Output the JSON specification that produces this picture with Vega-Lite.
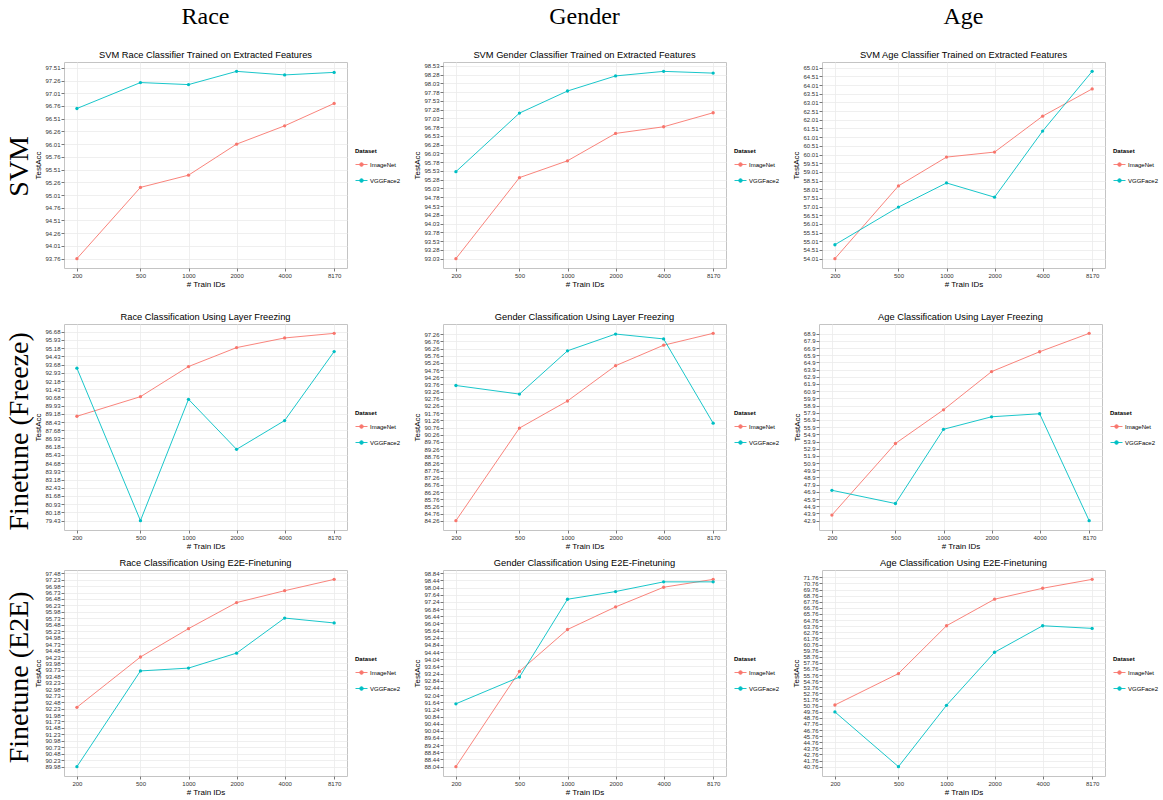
{
"$schema": "https://vega.github.io/schema/vega-lite/v6.json",
"padding": {"left": 6, "top": 4, "right": 0, "bottom": 0},
"datasets": {
"p1": [{"n":200,"acc":93.76,"Dataset":"ImageNet"},{"n":500,"acc":95.16,"Dataset":"ImageNet"},{"n":1000,"acc":95.40,"Dataset":"ImageNet"},{"n":2000,"acc":96.01,"Dataset":"ImageNet"},{"n":4000,"acc":96.37,"Dataset":"ImageNet"},{"n":8170,"acc":96.81,"Dataset":"ImageNet"},
{"n":200,"acc":96.71,"Dataset":"VGGFace2"},{"n":500,"acc":97.22,"Dataset":"VGGFace2"},{"n":1000,"acc":97.18,"Dataset":"VGGFace2"},{"n":2000,"acc":97.44,"Dataset":"VGGFace2"},{"n":4000,"acc":97.37,"Dataset":"VGGFace2"},{"n":8170,"acc":97.42,"Dataset":"VGGFace2"}],
"p2": [{"n":200,"acc":93.03,"Dataset":"ImageNet"},{"n":500,"acc":95.34,"Dataset":"ImageNet"},{"n":1000,"acc":95.82,"Dataset":"ImageNet"},{"n":2000,"acc":96.60,"Dataset":"ImageNet"},{"n":4000,"acc":96.79,"Dataset":"ImageNet"},{"n":8170,"acc":97.19,"Dataset":"ImageNet"},
{"n":200,"acc":95.51,"Dataset":"VGGFace2"},{"n":500,"acc":97.18,"Dataset":"VGGFace2"},{"n":1000,"acc":97.81,"Dataset":"VGGFace2"},{"n":2000,"acc":98.24,"Dataset":"VGGFace2"},{"n":4000,"acc":98.37,"Dataset":"VGGFace2"},{"n":8170,"acc":98.32,"Dataset":"VGGFace2"}],
"p3": [{"n":200,"acc":54.01,"Dataset":"ImageNet"},{"n":500,"acc":58.20,"Dataset":"ImageNet"},{"n":1000,"acc":59.86,"Dataset":"ImageNet"},{"n":2000,"acc":60.15,"Dataset":"ImageNet"},{"n":4000,"acc":62.22,"Dataset":"ImageNet"},{"n":8170,"acc":63.79,"Dataset":"ImageNet"},
{"n":200,"acc":54.81,"Dataset":"VGGFace2"},{"n":500,"acc":56.98,"Dataset":"VGGFace2"},{"n":1000,"acc":58.37,"Dataset":"VGGFace2"},{"n":2000,"acc":57.55,"Dataset":"VGGFace2"},{"n":4000,"acc":61.36,"Dataset":"VGGFace2"},{"n":8170,"acc":64.80,"Dataset":"VGGFace2"}],
"p4": [{"n":200,"acc":88.96,"Dataset":"ImageNet"},{"n":500,"acc":90.75,"Dataset":"ImageNet"},{"n":1000,"acc":93.50,"Dataset":"ImageNet"},{"n":2000,"acc":95.23,"Dataset":"ImageNet"},{"n":4000,"acc":96.11,"Dataset":"ImageNet"},{"n":8170,"acc":96.53,"Dataset":"ImageNet"},
{"n":200,"acc":93.35,"Dataset":"VGGFace2"},{"n":500,"acc":79.43,"Dataset":"VGGFace2"},{"n":1000,"acc":90.51,"Dataset":"VGGFace2"},{"n":2000,"acc":85.94,"Dataset":"VGGFace2"},{"n":4000,"acc":88.57,"Dataset":"VGGFace2"},{"n":8170,"acc":94.87,"Dataset":"VGGFace2"}],
"p5": [{"n":200,"acc":84.26,"Dataset":"ImageNet"},{"n":500,"acc":90.72,"Dataset":"ImageNet"},{"n":1000,"acc":92.61,"Dataset":"ImageNet"},{"n":2000,"acc":95.07,"Dataset":"ImageNet"},{"n":4000,"acc":96.50,"Dataset":"ImageNet"},{"n":8170,"acc":97.33,"Dataset":"ImageNet"},
{"n":200,"acc":93.69,"Dataset":"VGGFace2"},{"n":500,"acc":93.09,"Dataset":"VGGFace2"},{"n":1000,"acc":96.11,"Dataset":"VGGFace2"},{"n":2000,"acc":97.28,"Dataset":"VGGFace2"},{"n":4000,"acc":96.94,"Dataset":"VGGFace2"},{"n":8170,"acc":91.06,"Dataset":"VGGFace2"}],
"p6": [{"n":200,"acc":43.68,"Dataset":"ImageNet"},{"n":500,"acc":53.63,"Dataset":"ImageNet"},{"n":1000,"acc":58.31,"Dataset":"ImageNet"},{"n":2000,"acc":63.62,"Dataset":"ImageNet"},{"n":4000,"acc":66.38,"Dataset":"ImageNet"},{"n":8170,"acc":68.94,"Dataset":"ImageNet"},
{"n":200,"acc":47.12,"Dataset":"VGGFace2"},{"n":500,"acc":45.28,"Dataset":"VGGFace2"},{"n":1000,"acc":55.60,"Dataset":"VGGFace2"},{"n":2000,"acc":57.34,"Dataset":"VGGFace2"},{"n":4000,"acc":57.76,"Dataset":"VGGFace2"},{"n":8170,"acc":42.90,"Dataset":"VGGFace2"}],
"p7": [{"n":200,"acc":92.28,"Dataset":"ImageNet"},{"n":500,"acc":94.23,"Dataset":"ImageNet"},{"n":1000,"acc":95.33,"Dataset":"ImageNet"},{"n":2000,"acc":96.34,"Dataset":"ImageNet"},{"n":4000,"acc":96.80,"Dataset":"ImageNet"},{"n":8170,"acc":97.24,"Dataset":"ImageNet"},
{"n":200,"acc":89.98,"Dataset":"VGGFace2"},{"n":500,"acc":93.69,"Dataset":"VGGFace2"},{"n":1000,"acc":93.80,"Dataset":"VGGFace2"},{"n":2000,"acc":94.38,"Dataset":"VGGFace2"},{"n":4000,"acc":95.74,"Dataset":"VGGFace2"},{"n":8170,"acc":95.55,"Dataset":"VGGFace2"}],
"p8": [{"n":200,"acc":88.04,"Dataset":"ImageNet"},{"n":500,"acc":93.36,"Dataset":"ImageNet"},{"n":1000,"acc":95.70,"Dataset":"ImageNet"},{"n":2000,"acc":96.96,"Dataset":"ImageNet"},{"n":4000,"acc":98.06,"Dataset":"ImageNet"},{"n":8170,"acc":98.50,"Dataset":"ImageNet"},
{"n":200,"acc":91.55,"Dataset":"VGGFace2"},{"n":500,"acc":93.04,"Dataset":"VGGFace2"},{"n":1000,"acc":97.39,"Dataset":"VGGFace2"},{"n":2000,"acc":97.82,"Dataset":"VGGFace2"},{"n":4000,"acc":98.36,"Dataset":"VGGFace2"},{"n":8170,"acc":98.36,"Dataset":"VGGFace2"}],
"p9": [{"n":200,"acc":50.86,"Dataset":"ImageNet"},{"n":500,"acc":56.00,"Dataset":"ImageNet"},{"n":1000,"acc":63.83,"Dataset":"ImageNet"},{"n":2000,"acc":68.18,"Dataset":"ImageNet"},{"n":4000,"acc":69.97,"Dataset":"ImageNet"},{"n":8170,"acc":71.43,"Dataset":"ImageNet"},
{"n":200,"acc":49.72,"Dataset":"VGGFace2"},{"n":500,"acc":40.76,"Dataset":"VGGFace2"},{"n":1000,"acc":50.80,"Dataset":"VGGFace2"},{"n":2000,"acc":59.49,"Dataset":"VGGFace2"},{"n":4000,"acc":63.83,"Dataset":"VGGFace2"},{"n":8170,"acc":63.40,"Dataset":"VGGFace2"}]
},
"spacing": 23,
"resolve": {"scale": {"color": "independent"}},
"vconcat": [
{
"title": {"text": "SVM", "orient": "left", "font": "Liberation Serif", "fontSize": 28, "fontWeight": "normal", "anchor": "middle", "offset": 0, "dx": -20, "color": "#000"},
"spacing": 11,
"resolve": {"scale": {"color": "independent"}},
"hconcat": [
{
"width": 283, "height": 206,
"title": {"text": "Race", "font": "Liberation Serif", "fontSize": 24, "fontWeight": "normal", "subtitle": "SVM Race Classifier Trained on Extracted Features", "subtitleFont": "Liberation Sans", "subtitleFontSize": 9.3, "subtitleColor": "#000", "subtitlePadding": 22, "offset": 2},
"data": {"name": "p1"},
"encoding": {"color": {"field": "Dataset", "type": "nominal", "scale": {"domain": ["ImageNet","VGGFace2"], "range": ["#F8766D","#00BFC4"]}, "legend": {"orient": "none", "legendX": 291, "legendY": 86}}},
"layer": [
{"mark": {"type": "line", "strokeWidth": 0.9}, "encoding": {
"x": {"field": "n", "type": "quantitative", "scale": {"type": "log", "domain": [166, 9833], "nice": false}, "axis": {"values": [200,500,1000,2000,4000,8170], "format": "d", "title": "# Train IDs"}},
"y": {"field": "acc", "type": "quantitative", "scale": {"domain": [93.576, 97.624], "nice": false, "zero": false}, "axis": {"values": [93.76,94.01,94.26,94.51,94.76,95.01,95.26,95.51,95.76,96.01,96.26,96.51,96.76,97.01,97.26,97.51], "format": ".2f", "title": "TestAcc"}}}},
{"mark": {"type": "point", "filled": true, "size": 11, "opacity": 1}, "encoding": {
"x": {"field": "n", "type": "quantitative", "axis": {"orient": "top", "values": [316.2,707.1,1414.2,2828.4,5716.6], "labels": false, "ticks": false, "title": null, "minExtent": 0, "maxExtent": 0, "gridColor": "#f6f6f6"}},
"y": {"field": "acc", "type": "quantitative", "axis": {"orient": "right", "values": [93.885,94.135,94.385,94.635,94.885,95.135,95.385,95.635,95.885,96.135,96.385,96.635,96.885,97.135,97.385], "labels": false, "ticks": false, "title": null, "minExtent": 0, "maxExtent": 0, "gridColor": "#f6f6f6"}}}}
],
"resolve": {"axis": {"x": "independent", "y": "independent"}}
},
{
"width": 283, "height": 206,
"title": {"text": "Gender", "font": "Liberation Serif", "fontSize": 24, "fontWeight": "normal", "subtitle": "SVM Gender Classifier Trained on Extracted Features", "subtitleFont": "Liberation Sans", "subtitleFontSize": 9.3, "subtitleColor": "#000", "subtitlePadding": 22, "offset": 2},
"data": {"name": "p2"},
"encoding": {"color": {"field": "Dataset", "type": "nominal", "scale": {"domain": ["ImageNet","VGGFace2"], "range": ["#F8766D","#00BFC4"]}, "legend": {"orient": "none", "legendX": 291, "legendY": 86}}},
"layer": [
{"mark": {"type": "line", "strokeWidth": 0.9}, "encoding": {
"x": {"field": "n", "type": "quantitative", "scale": {"type": "log", "domain": [166, 9833], "nice": false}, "axis": {"values": [200,500,1000,2000,4000,8170], "format": "d", "title": "# Train IDs"}},
"y": {"field": "acc", "type": "quantitative", "scale": {"domain": [92.763, 98.637], "nice": false, "zero": false}, "axis": {"values": [93.03,93.28,93.53,93.78,94.03,94.28,94.53,94.78,95.03,95.28,95.53,95.78,96.03,96.28,96.53,96.78,97.03,97.28,97.53,97.78,98.03,98.28,98.53], "format": ".2f", "title": "TestAcc"}}}},
{"mark": {"type": "point", "filled": true, "size": 11, "opacity": 1}, "encoding": {
"x": {"field": "n", "type": "quantitative", "axis": {"orient": "top", "values": [316.2,707.1,1414.2,2828.4,5716.6], "labels": false, "ticks": false, "title": null, "minExtent": 0, "maxExtent": 0, "gridColor": "#f6f6f6"}},
"y": {"field": "acc", "type": "quantitative", "axis": {"orient": "right", "values": [93.155,93.405,93.655,93.905,94.155,94.405,94.655,94.905,95.155,95.405,95.655,95.905,96.155,96.405,96.655,96.905,97.155,97.405,97.655,97.905,98.155,98.405], "labels": false, "ticks": false, "title": null, "minExtent": 0, "maxExtent": 0, "gridColor": "#f6f6f6"}}}}
],
"resolve": {"axis": {"x": "independent", "y": "independent"}}
},
{
"width": 283, "height": 206,
"title": {"text": "Age", "font": "Liberation Serif", "fontSize": 24, "fontWeight": "normal", "subtitle": "SVM Age Classifier Trained on Extracted Features", "subtitleFont": "Liberation Sans", "subtitleFontSize": 9.3, "subtitleColor": "#000", "subtitlePadding": 22, "offset": 2},
"data": {"name": "p3"},
"encoding": {"color": {"field": "Dataset", "type": "nominal", "scale": {"domain": ["ImageNet","VGGFace2"], "range": ["#F8766D","#00BFC4"]}, "legend": {"orient": "none", "legendX": 291, "legendY": 86}}},
"layer": [
{"mark": {"type": "line", "strokeWidth": 0.9}, "encoding": {
"x": {"field": "n", "type": "quantitative", "scale": {"type": "log", "domain": [166, 9833], "nice": false}, "axis": {"values": [200,500,1000,2000,4000,8170], "format": "d", "title": "# Train IDs"}},
"y": {"field": "acc", "type": "quantitative", "scale": {"domain": [53.47, 65.34], "nice": false, "zero": false}, "axis": {"values": [54.01,54.51,55.01,55.51,56.01,56.51,57.01,57.51,58.01,58.51,59.01,59.51,60.01,60.51,61.01,61.51,62.01,62.51,63.01,63.51,64.01,64.51,65.01], "format": ".2f", "title": "TestAcc"}}}},
{"mark": {"type": "point", "filled": true, "size": 11, "opacity": 1}, "encoding": {
"x": {"field": "n", "type": "quantitative", "axis": {"orient": "top", "values": [316.2,707.1,1414.2,2828.4,5716.6], "labels": false, "ticks": false, "title": null, "minExtent": 0, "maxExtent": 0, "gridColor": "#f6f6f6"}},
"y": {"field": "acc", "type": "quantitative", "axis": {"orient": "right", "values": [54.26,54.76,55.26,55.76,56.26,56.76,57.26,57.76,58.26,58.76,59.26,59.76,60.26,60.76,61.26,61.76,62.26,62.76,63.26,63.76,64.26,64.76], "labels": false, "ticks": false, "title": null, "minExtent": 0, "maxExtent": 0, "gridColor": "#f6f6f6"}}}}
],
"resolve": {"axis": {"x": "independent", "y": "independent"}}
}
]
},
{
"spacing": 7,
"resolve": {"scale": {"color": "independent"}},
"vconcat": [
{
"title": {"text": "Finetune (Freeze)", "orient": "left", "font": "Liberation Serif", "fontSize": 28, "fontWeight": "normal", "anchor": "middle", "offset": 0, "color": "#000"},
"spacing": 11,
"resolve": {"scale": {"color": "independent"}},
"hconcat": [
{
"width": 283, "height": 206,
"title": {"text": "Race Classification Using Layer Freezing", "font": "Liberation Sans", "fontSize": 9.3, "fontWeight": "normal", "offset": 2},
"data": {"name": "p4"},
"encoding": {"color": {"field": "Dataset", "type": "nominal", "scale": {"domain": ["ImageNet","VGGFace2"], "range": ["#F8766D","#00BFC4"]}, "legend": {"orient": "none", "legendX": 291, "legendY": 86}}},
"layer": [
{"mark": {"type": "line", "strokeWidth": 0.9}, "encoding": {
"x": {"field": "n", "type": "quantitative", "scale": {"type": "log", "domain": [166, 9833], "nice": false}, "axis": {"values": [200,500,1000,2000,4000,8170], "format": "d", "title": "# Train IDs"}},
"y": {"field": "acc", "type": "quantitative", "scale": {"domain": [78.575, 97.385], "nice": false, "zero": false}, "axis": {"values": [79.43,80.18,80.93,81.68,82.43,83.18,83.93,84.68,85.43,86.18,86.93,87.68,88.43,89.18,89.93,90.68,91.43,92.18,92.93,93.68,94.43,95.18,95.93,96.68], "format": ".2f", "title": "TestAcc"}}}},
{"mark": {"type": "point", "filled": true, "size": 11, "opacity": 1}, "encoding": {
"x": {"field": "n", "type": "quantitative", "axis": {"orient": "top", "values": [316.2,707.1,1414.2,2828.4,5716.6], "labels": false, "ticks": false, "title": null, "minExtent": 0, "maxExtent": 0, "gridColor": "#f6f6f6"}},
"y": {"field": "acc", "type": "quantitative", "axis": {"orient": "right", "values": [79.805,80.555,81.305,82.055,82.805,83.555,84.305,85.055,85.805,86.555,87.305,88.055,88.805,89.555,90.305,91.055,91.805,92.555,93.305,94.055,94.805,95.555,96.305], "labels": false, "ticks": false, "title": null, "minExtent": 0, "maxExtent": 0, "gridColor": "#f6f6f6"}}}}
],
"resolve": {"axis": {"x": "independent", "y": "independent"}}
},
{
"width": 283, "height": 206,
"title": {"text": "Gender Classification Using Layer Freezing", "font": "Liberation Sans", "fontSize": 9.3, "fontWeight": "normal", "offset": 2},
"data": {"name": "p5"},
"encoding": {"color": {"field": "Dataset", "type": "nominal", "scale": {"domain": ["ImageNet","VGGFace2"], "range": ["#F8766D","#00BFC4"]}, "legend": {"orient": "none", "legendX": 291, "legendY": 86}}},
"layer": [
{"mark": {"type": "line", "strokeWidth": 0.9}, "encoding": {
"x": {"field": "n", "type": "quantitative", "scale": {"type": "log", "domain": [166, 9833], "nice": false}, "axis": {"values": [200,500,1000,2000,4000,8170], "format": "d", "title": "# Train IDs"}},
"y": {"field": "acc", "type": "quantitative", "scale": {"domain": [83.61, 97.98], "nice": false, "zero": false}, "axis": {"values": [84.26,84.76,85.26,85.76,86.26,86.76,87.26,87.76,88.26,88.76,89.26,89.76,90.26,90.76,91.26,91.76,92.26,92.76,93.26,93.76,94.26,94.76,95.26,95.76,96.26,96.76,97.26], "format": ".2f", "title": "TestAcc"}}}},
{"mark": {"type": "point", "filled": true, "size": 11, "opacity": 1}, "encoding": {
"x": {"field": "n", "type": "quantitative", "axis": {"orient": "top", "values": [316.2,707.1,1414.2,2828.4,5716.6], "labels": false, "ticks": false, "title": null, "minExtent": 0, "maxExtent": 0, "gridColor": "#f6f6f6"}},
"y": {"field": "acc", "type": "quantitative", "axis": {"orient": "right", "values": [84.51,85.01,85.51,86.01,86.51,87.01,87.51,88.01,88.51,89.01,89.51,90.01,90.51,91.01,91.51,92.01,92.51,93.01,93.51,94.01,94.51,95.01,95.51,96.01,96.51,97.01], "labels": false, "ticks": false, "title": null, "minExtent": 0, "maxExtent": 0, "gridColor": "#f6f6f6"}}}}
],
"resolve": {"axis": {"x": "independent", "y": "independent"}}
},
{
"width": 283, "height": 206,
"title": {"text": "Age Classification Using Layer Freezing", "font": "Liberation Sans", "fontSize": 9.3, "fontWeight": "normal", "offset": 2},
"data": {"name": "p6"},
"encoding": {"color": {"field": "Dataset", "type": "nominal", "scale": {"domain": ["ImageNet","VGGFace2"], "range": ["#F8766D","#00BFC4"]}, "legend": {"orient": "none", "legendX": 291, "legendY": 86}}},
"layer": [
{"mark": {"type": "line", "strokeWidth": 0.9}, "encoding": {
"x": {"field": "n", "type": "quantitative", "scale": {"type": "log", "domain": [166, 9833], "nice": false}, "axis": {"values": [200,500,1000,2000,4000,8170], "format": "d", "title": "# Train IDs"}},
"y": {"field": "acc", "type": "quantitative", "scale": {"domain": [41.6, 70.24], "nice": false, "zero": false}, "axis": {"values": [42.9,43.9,44.9,45.9,46.9,47.9,48.9,49.9,50.9,51.9,52.9,53.9,54.9,55.9,56.9,57.9,58.9,59.9,60.9,61.9,62.9,63.9,64.9,65.9,66.9,67.9,68.9], "format": ".1f", "title": "TestAcc"}}}},
{"mark": {"type": "point", "filled": true, "size": 11, "opacity": 1}, "encoding": {
"x": {"field": "n", "type": "quantitative", "axis": {"orient": "top", "values": [316.2,707.1,1414.2,2828.4,5716.6], "labels": false, "ticks": false, "title": null, "minExtent": 0, "maxExtent": 0, "gridColor": "#f6f6f6"}},
"y": {"field": "acc", "type": "quantitative", "axis": {"orient": "right", "values": [43.4,44.4,45.4,46.4,47.4,48.4,49.4,50.4,51.4,52.4,53.4,54.4,55.4,56.4,57.4,58.4,59.4,60.4,61.4,62.4,63.4,64.4,65.4,66.4,67.4,68.4], "labels": false, "ticks": false, "title": null, "minExtent": 0, "maxExtent": 0, "gridColor": "#f6f6f6"}}}}
],
"resolve": {"axis": {"x": "independent", "y": "independent"}}
}
]
},
{
"title": {"text": "Finetune (E2E)", "orient": "left", "font": "Liberation Serif", "fontSize": 28, "fontWeight": "normal", "anchor": "middle", "offset": 0, "color": "#000"},
"spacing": 11,
"resolve": {"scale": {"color": "independent"}},
"hconcat": [
{
"width": 283, "height": 206,
"title": {"text": "Race Classification Using E2E-Finetuning", "font": "Liberation Sans", "fontSize": 9.3, "fontWeight": "normal", "offset": 2},
"data": {"name": "p7"},
"encoding": {"color": {"field": "Dataset", "type": "nominal", "scale": {"domain": ["ImageNet","VGGFace2"], "range": ["#F8766D","#00BFC4"]}, "legend": {"orient": "none", "legendX": 291, "legendY": 86}}},
"layer": [
{"mark": {"type": "line", "strokeWidth": 0.9}, "encoding": {
"x": {"field": "n", "type": "quantitative", "scale": {"type": "log", "domain": [166, 9833], "nice": false}, "axis": {"values": [200,500,1000,2000,4000,8170], "format": "d", "title": "# Train IDs"}},
"y": {"field": "acc", "type": "quantitative", "scale": {"domain": [89.617, 97.603], "nice": false, "zero": false}, "axis": {"values": [89.98,90.23,90.48,90.73,90.98,91.23,91.48,91.73,91.98,92.23,92.48,92.73,92.98,93.23,93.48,93.73,93.98,94.23,94.48,94.73,94.98,95.23,95.48,95.73,95.98,96.23,96.48,96.73,96.98,97.23,97.48], "format": ".2f", "title": "TestAcc"}}}},
{"mark": {"type": "point", "filled": true, "size": 11, "opacity": 1}, "encoding": {
"x": {"field": "n", "type": "quantitative", "axis": {"orient": "top", "values": [316.2,707.1,1414.2,2828.4,5716.6], "labels": false, "ticks": false, "title": null, "minExtent": 0, "maxExtent": 0, "gridColor": "#f6f6f6"}},
"y": {"field": "acc", "type": "quantitative", "axis": {"orient": "right", "values": [90.105,90.355,90.605,90.855,91.105,91.355,91.605,91.855,92.105,92.355,92.605,92.855,93.105,93.355,93.605,93.855,94.105,94.355,94.605,94.855,95.105,95.355,95.605,95.855,96.105,96.355,96.605,96.855,97.105,97.355], "labels": false, "ticks": false, "title": null, "minExtent": 0, "maxExtent": 0, "gridColor": "#f6f6f6"}}}}
],
"resolve": {"axis": {"x": "independent", "y": "independent"}}
},
{
"width": 283, "height": 206,
"title": {"text": "Gender Classification Using E2E-Finetuning", "font": "Liberation Sans", "fontSize": 9.3, "fontWeight": "normal", "offset": 2},
"data": {"name": "p8"},
"encoding": {"color": {"field": "Dataset", "type": "nominal", "scale": {"domain": ["ImageNet","VGGFace2"], "range": ["#F8766D","#00BFC4"]}, "legend": {"orient": "none", "legendX": 291, "legendY": 86}}},
"layer": [
{"mark": {"type": "line", "strokeWidth": 0.9}, "encoding": {
"x": {"field": "n", "type": "quantitative", "scale": {"type": "log", "domain": [166, 9833], "nice": false}, "axis": {"values": [200,500,1000,2000,4000,8170], "format": "d", "title": "# Train IDs"}},
"y": {"field": "acc", "type": "quantitative", "scale": {"domain": [87.517, 99.023], "nice": false, "zero": false}, "axis": {"values": [88.04,88.44,88.84,89.24,89.64,90.04,90.44,90.84,91.24,91.64,92.04,92.44,92.84,93.24,93.64,94.04,94.44,94.84,95.24,95.64,96.04,96.44,96.84,97.24,97.64,98.04,98.44,98.84], "format": ".2f", "title": "TestAcc"}}}},
{"mark": {"type": "point", "filled": true, "size": 11, "opacity": 1}, "encoding": {
"x": {"field": "n", "type": "quantitative", "axis": {"orient": "top", "values": [316.2,707.1,1414.2,2828.4,5716.6], "labels": false, "ticks": false, "title": null, "minExtent": 0, "maxExtent": 0, "gridColor": "#f6f6f6"}},
"y": {"field": "acc", "type": "quantitative", "axis": {"orient": "right", "values": [88.24,88.64,89.04,89.44,89.84,90.24,90.64,91.04,91.44,91.84,92.24,92.64,93.04,93.44,93.84,94.24,94.64,95.04,95.44,95.84,96.24,96.64,97.04,97.44,97.84,98.24,98.64], "labels": false, "ticks": false, "title": null, "minExtent": 0, "maxExtent": 0, "gridColor": "#f6f6f6"}}}}
],
"resolve": {"axis": {"x": "independent", "y": "independent"}}
},
{
"width": 283, "height": 206,
"title": {"text": "Age Classification Using E2E-Finetuning", "font": "Liberation Sans", "fontSize": 9.3, "fontWeight": "normal", "offset": 2},
"data": {"name": "p9"},
"encoding": {"color": {"field": "Dataset", "type": "nominal", "scale": {"domain": ["ImageNet","VGGFace2"], "range": ["#F8766D","#00BFC4"]}, "legend": {"orient": "none", "legendX": 291, "legendY": 86}}},
"layer": [
{"mark": {"type": "line", "strokeWidth": 0.9}, "encoding": {
"x": {"field": "n", "type": "quantitative", "scale": {"type": "log", "domain": [166, 9833], "nice": false}, "axis": {"values": [200,500,1000,2000,4000,8170], "format": "d", "title": "# Train IDs"}},
"y": {"field": "acc", "type": "quantitative", "scale": {"domain": [39.23, 72.96], "nice": false, "zero": false}, "axis": {"values": [40.76,41.76,42.76,43.76,44.76,45.76,46.76,47.76,48.76,49.76,50.76,51.76,52.76,53.76,54.76,55.76,56.76,57.76,58.76,59.76,60.76,61.76,62.76,63.76,64.76,65.76,66.76,67.76,68.76,69.76,70.76,71.76], "format": ".2f", "title": "TestAcc"}}}},
{"mark": {"type": "point", "filled": true, "size": 11, "opacity": 1}, "encoding": {
"x": {"field": "n", "type": "quantitative", "axis": {"orient": "top", "values": [316.2,707.1,1414.2,2828.4,5716.6], "labels": false, "ticks": false, "title": null, "minExtent": 0, "maxExtent": 0, "gridColor": "#f6f6f6"}},
"y": {"field": "acc", "type": "quantitative", "axis": {"orient": "right", "values": [41.26,42.26,43.26,44.26,45.26,46.26,47.26,48.26,49.26,50.26,51.26,52.26,53.26,54.26,55.26,56.26,57.26,58.26,59.26,60.26,61.26,62.26,63.26,64.26,65.26,66.26,67.26,68.26,69.26,70.26,71.26], "labels": false, "ticks": false, "title": null, "minExtent": 0, "maxExtent": 0, "gridColor": "#f6f6f6"}}}}
],
"resolve": {"axis": {"x": "independent", "y": "independent"}}
}
]
}
]
}
],
"config": {
"view": {"stroke": "#c4c4c4", "strokeWidth": 1},
"axis": {"labelFont": "Liberation Sans", "labelFontSize": 6, "labelColor": "#333333", "labelOverlap": false, "labelFlush": false, "labelPadding": 1, "tickColor": "#555555", "tickSize": 3, "tickWidth": 0.8, "domain": false, "gridColor": "#ebebeb", "gridWidth": 0.8, "titleFont": "Liberation Sans", "titleFontSize": 8, "titleFontWeight": "normal", "titleColor": "#000000", "titlePadding": 2},
"legend": {"titleFont": "Liberation Sans", "titleFontSize": 6, "titleFontWeight": "bold", "titleColor": "#000000", "labelFont": "Liberation Sans", "labelFontSize": 6, "labelColor": "#000000", "symbolType": "M-1,0L1,0M0.3,0A0.3,0.3,0,1,1,-0.3,0A0.3,0.3,0,1,1,0.3,0Z", "symbolSize": 144, "symbolStrokeWidth": 0.9, "rowPadding": 5, "titlePadding": 4, "labelOffset": 2},
"title": {"font": "Liberation Sans", "fontSize": 9.3, "fontWeight": "normal", "color": "#000000", "offset": 2}
}
}
